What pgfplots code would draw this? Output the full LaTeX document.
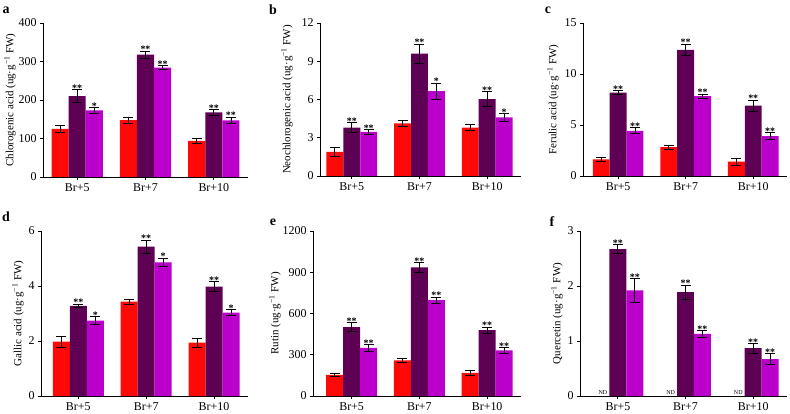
\documentclass[border=0pt]{standalone}
\usepackage{fontspec}
\setmainfont{Liberation Serif}
\usepackage{pgfplots}
\pgfplotsset{compat=1.18}
\definecolor{cred}{RGB}{255,8,8}
\definecolor{cdark}{RGB}{94,0,84}
\definecolor{cmag}{RGB}{188,0,204}
\pgfplotsset{
  panel/.style={
    scale only axis,
    axis x line*=bottom, axis y line*=left,
    xmax=2.5, ymin=0,
    xtick={0,1,2}, xticklabels={Br+5,Br+7,Br+10},
    tick align=outside,
    major tick length=3bp,
    tick label style={font=\fontsize{12}{12}\selectfont},
    /pgf/number format/assume math mode=true,
    /pgf/number format/1000 sep={},
    scaled y ticks=false,
    axis line style={line width=0.8pt, black},
    tick style={line width=0.8pt, black},
    clip=false,
    ylabel style={font=\fontsize{11}{12}\selectfont, anchor=center},
  },
  errs/.style={error bars/.cd, y dir=both, y explicit,
    error bar style={line width=0.8pt, black},
    error mark options={rotate=90, mark size=5bp, line width=0.8pt, black}},
  b1/.style={ybar, bar width=0.25, bar shift=0, fill=cred, draw=none, errs},
  b2/.style={ybar, bar width=0.25, bar shift=0, fill=cdark, draw=none, errs},
  b3/.style={ybar, bar width=0.25, bar shift=0, fill=cmag, draw=none, errs},
  stars/.style={draw=none, mark=none, nodes near coords, point meta=explicit symbolic,
    nodes near coords style={anchor=south, inner sep=0pt, yshift=-2bp, font=\bfseries\fontsize{10}{10}\selectfont}},
  ndl/.style={draw=none, mark=none, nodes near coords, point meta=explicit symbolic,
    nodes near coords style={anchor=south, inner sep=0pt, yshift=1bp, xshift=2bp, font=\fontsize{6}{6}\selectfont}},
}
\begin{document}
\begin{tikzpicture}
\useasboundingbox (0bp,0bp) rectangle (790bp,414bp);
% panel letters
\node[font=\bfseries\fontsize{14}{14}\selectfont] at (6bp,404bp) {a};
\node[font=\bfseries\fontsize{14}{14}\selectfont] at (273bp,404bp) {b};
\node[font=\bfseries\fontsize{14}{14}\selectfont] at (548bp,404bp) {c};
\node[font=\bfseries\fontsize{14}{14}\selectfont] at (6bp,197bp) {d};
\node[font=\bfseries\fontsize{14}{14}\selectfont] at (273bp,192bp) {e};
\node[font=\bfseries\fontsize{14}{14}\selectfont] at (552bp,192bp) {f};

% a
\begin{axis}[panel, at={(43bp,237bp)}, anchor=south west, width=205bp, height=154bp,
  xmin=-0.5, ymax=400, ytick={0,100,200,300,400},
  ylabel={Chlorogenic acid (ug·g\textsuperscript{−1} FW)},
  ylabel style={at={(axis description cs:-0.161,0.5)}}]
\addplot[b1] coordinates {(-0.25,125) +- (0,10) (0.75,148) +- (0,8) (1.75,94) +- (0,6)};
\addplot[b2] coordinates {(0,210) +- (0,17) (1,318) +- (0,9) (2,168) +- (0,8)};
\addplot[b3] coordinates {(0.25,173) +- (0,7) (1.25,284) +- (0,5) (2.25,147) +- (0,9)};
\addplot[stars] coordinates {(0,227)[**] (0.25,180)[*] (1,327)[**] (1.25,289)[**] (2,176)[**] (2.25,156)[**]};
\end{axis}

% b
\begin{axis}[panel, at={(320bp,238bp)}, anchor=south west, width=201bp, height=153bp,
  xmin=-0.47, ymax=12, ytick={0,3,6,9,12},
  ylabel={Neochlorogenic acid (ug·g\textsuperscript{−1} FW)},
  ylabel style={at={(axis description cs:-0.164,0.5)}}]
\addplot[b1] coordinates {(-0.25,1.9) +- (0,0.35) (0.75,4.12) +- (0,0.25) (1.75,3.8) +- (0,0.25)};
\addplot[b2] coordinates {(0,3.8) +- (0,0.4) (1,9.6) +- (0,0.75) (2,6.03) +- (0,0.6)};
\addplot[b3] coordinates {(0.25,3.47) +- (0,0.2) (1.25,6.65) +- (0,0.65) (2.25,4.6) +- (0,0.3)};
\addplot[stars] coordinates {(0,4.2)[**] (0.25,3.67)[**] (1,10.35)[**] (1.25,7.3)[*] (2,6.63)[**] (2.25,4.9)[*]};
\end{axis}

% c
\begin{axis}[panel, at={(583bp,238bp)}, anchor=south west, width=204bp, height=153bp,
  xmin=-0.52, ymax=15, ytick={0,5,10,15},
  ylabel={Ferulic acid (ug·g\textsuperscript{−1} FW)},
  ylabel style={at={(axis description cs:-0.147,0.5)}}]
\addplot[b1] coordinates {(-0.25,1.64) +- (0,0.2) (0.75,2.82) +- (0,0.2) (1.75,1.41) +- (0,0.35)};
\addplot[b2] coordinates {(0,8.17) +- (0,0.2) (1,12.37) +- (0,0.57) (2,6.9) +- (0,0.55)};
\addplot[b3] coordinates {(0.25,4.43) +- (0,0.3) (1.25,7.84) +- (0,0.2) (2.25,3.9) +- (0,0.35)};
\addplot[stars] coordinates {(0,8.37)[**] (0.25,4.73)[**] (1,12.94)[**] (1.25,8.04)[**] (2,7.45)[**] (2.25,4.25)[**]};
\end{axis}

% d
\begin{axis}[panel, at={(41bp,18bp)}, anchor=south west, width=207bp, height=165bp,
  xmin=-0.55, ymax=6, ytick={0,2,4,6},
  ylabel={Gallic acid (ug·g\textsuperscript{−1} FW)},
  ylabel style={at={(axis description cs:-0.111,0.5)}}]
\addplot[b1] coordinates {(-0.25,1.98) +- (0,0.2) (0.75,3.43) +- (0,0.1) (1.75,1.94) +- (0,0.16)};
\addplot[b2] coordinates {(0,3.28) +- (0,0.06) (1,5.43) +- (0,0.24) (2,3.98) +- (0,0.19)};
\addplot[b3] coordinates {(0.25,2.74) +- (0,0.15) (1.25,4.86) +- (0,0.16) (2.25,3.03) +- (0,0.11)};
\addplot[stars] coordinates {(0,3.34)[**] (0.25,2.89)[*] (1,5.67)[**] (1.25,5.02)[*] (2,4.17)[**] (2.25,3.14)[*]};
\end{axis}

% e
\begin{axis}[panel, at={(313bp,18bp)}, anchor=south west, width=208bp, height=165bp,
  xmin=-0.57, ymax=1200, ytick={0,300,600,900,1200},
  ylabel={Rutin (ug·g\textsuperscript{−1} FW)},
  ylabel style={at={(axis description cs:-0.183,0.5)}}]
\addplot[b1] coordinates {(-0.25,154) +- (0,13) (0.75,259) +- (0,12) (1.75,169) +- (0,16)};
\addplot[b2] coordinates {(0,501) +- (0,32) (1,936) +- (0,34) (2,479) +- (0,22)};
\addplot[b3] coordinates {(0.25,350) +- (0,22) (1.25,697) +- (0,22) (2.25,332) +- (0,21)};
\addplot[stars] coordinates {(0,533)[**] (0.25,372)[**] (1,970)[**] (1.25,719)[**] (2,501)[**] (2.25,353)[**]};
\end{axis}

% f
\begin{axis}[panel, at={(580bp,18bp)}, anchor=south west, width=207bp, height=165bp,
  xmin=-0.56, ymax=3, ytick={0,1,2,3},
  ylabel={Quercetin (ug·g\textsuperscript{−1} FW)},
  ylabel style={at={(axis description cs:-0.111,0.5)}}]
\addplot[b2] coordinates {(0,2.67) +- (0,0.08) (1,1.89) +- (0,0.13) (2,0.87) +- (0,0.09)};
\addplot[b3] coordinates {(0.25,1.92) +- (0,0.21) (1.25,1.13) +- (0,0.06) (2.25,0.67) +- (0,0.1)};
\addplot[stars] coordinates {(0,2.75)[**] (0.25,2.13)[**] (1,2.02)[**] (1.25,1.19)[**] (2,0.96)[**] (2.25,0.77)[**]};
\addplot[ndl] coordinates {(-0.25,0)[ND] (0.75,0)[ND] (1.75,0)[ND]};
\end{axis}
\end{tikzpicture}
\end{document}
